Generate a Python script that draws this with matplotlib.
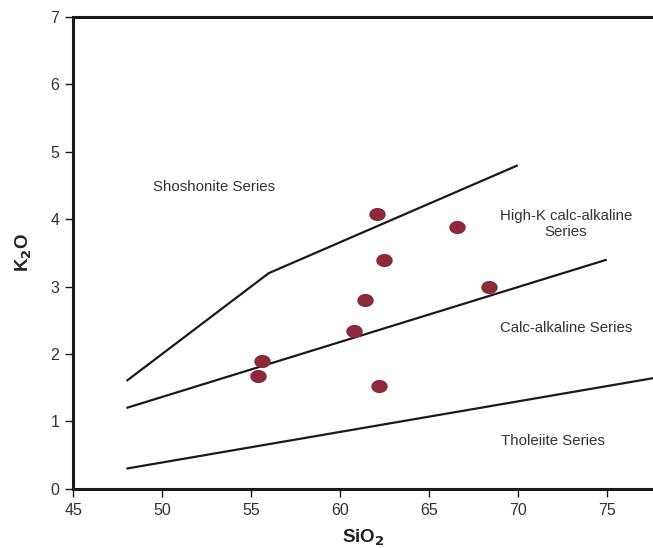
import matplotlib.pyplot as plt
import numpy as np
from matplotlib.path import Path

plt.rcParams['font.family'] = ['Liberation Sans', 'DejaVu Sans']

# boundary lines (SiO2, K2O)
shosh_x = [48, 56, 70]
shosh_y = [1.6, 3.2, 4.8]
highk_x = [48, 75]
highk_y = [1.2, 3.4]
thol_x = [48, 80]
thol_y = [0.3, 1.75]

# samples
sio2 = [62.1, 66.6, 62.5, 61.4, 68.4, 60.8, 55.6, 55.4, 62.2]
k2o = [4.08, 3.88, 3.40, 2.80, 3.00, 2.34, 1.89, 1.68, 1.53]

labels = ['Shoshonite Series', 'High-K calc-alkaline\nSeries',
          'Calc-alkaline Series', 'Tholeiite Series']
label_x = [52.9, 72.7, 72.7, 72.0]
label_y = [4.48, 3.93, 2.39, 0.71]

fig = plt.figure(figsize=(6.53, 5.48), dpi=100)
ax = fig.add_axes([0.112, 0.108, 0.888, 0.861])

line_kw = dict(color='#1a1a1a', lw=1.6, solid_capstyle='butt')
ax.plot(shosh_x, shosh_y, **line_kw)
ax.plot(highk_x, highk_y, **line_kw)
ax.plot(thol_x, thol_y, **line_kw)

# slightly flattened circle marker
t = np.linspace(0, 2 * np.pi, 60)
ell = Path(np.column_stack([np.cos(t), 0.8 * np.sin(t)]), closed=True)
ax.scatter(sio2, k2o, marker=ell, s=140, color='#8c2a3d', zorder=3, lw=0)

for txt, lx, ly in zip(labels, label_x, label_y):
    ax.text(lx, ly, txt, ha='center', va='center', fontsize=10.8,
            color='#333333', linespacing=1.25, multialignment='center')

ax.set_xlim(45, 77.6)
ax.set_ylim(0, 7)
ax.set_xticks([45, 50, 55, 60, 65, 70, 75])
ax.set_yticks(range(8))

for side in ['left', 'bottom', 'top']:
    ax.spines[side].set_linewidth(2.2)
    ax.spines[side].set_color('#1a1a1a')
ax.spines['right'].set_visible(False)
ax.tick_params(direction='out', length=6, width=1, colors='#1a1a1a',
               labelsize=11.5, labelcolor='#333333', pad=4)

ax.set_xlabel('SiO$_\\mathbf{2}$', fontsize=13.5, fontweight='bold',
              color='#222222', labelpad=7)
ax.set_ylabel('K$_\\mathbf{2}$O', fontsize=13.5, fontweight='bold',
              color='#222222', labelpad=12)

fig.savefig('out.png', dpi=100)
